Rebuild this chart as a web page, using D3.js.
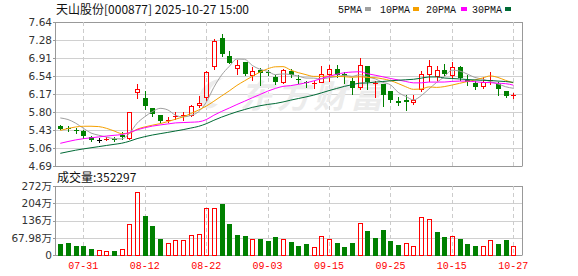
<!DOCTYPE html>
<html><head><meta charset="utf-8">
<script src="https://cdn.jsdelivr.net/npm/d3@7"></script>
<style>body{margin:0;background:#fff} svg{display:block}</style>
</head><body><svg id="c" width="578" height="276"></svg>
<script>
// ---------------- DATA ----------------
const title = "天山股份[000877] 2025-10-27 15:00";
const dates = [
 "2025-07-28","2025-07-29","2025-07-30","2025-07-31",
 "2025-08-01","2025-08-04","2025-08-05","2025-08-06","2025-08-07","2025-08-08",
 "2025-08-11","2025-08-12","2025-08-13","2025-08-14","2025-08-15",
 "2025-08-18","2025-08-19","2025-08-20","2025-08-21","2025-08-22",
 "2025-08-25","2025-08-26","2025-08-27","2025-08-28","2025-08-29",
 "2025-09-01","2025-09-02","2025-09-03","2025-09-04","2025-09-05",
 "2025-09-08","2025-09-09","2025-09-10","2025-09-11","2025-09-12",
 "2025-09-15","2025-09-16","2025-09-17","2025-09-18","2025-09-19",
 "2025-09-22","2025-09-23","2025-09-24","2025-09-25","2025-09-26",
 "2025-09-29","2025-09-30","2025-10-09","2025-10-10",
 "2025-10-13","2025-10-14","2025-10-15","2025-10-16","2025-10-17",
 "2025-10-20","2025-10-21","2025-10-22","2025-10-23","2025-10-24","2025-10-27"
];
const open  = [5.51,5.47,5.42,5.40,5.29,5.23,5.24,5.25,5.32,5.265,
               6.21,6.09,5.88,5.745,5.61,5.69,5.71,5.74,5.93,6.10,
               6.74,7.32,6.94,6.70,6.82,6.56,6.66,6.62,6.52,6.42,
               6.64,6.48,6.405,6.37,6.41,6.58,6.67,6.58,6.44,6.305,
               6.73,6.38,6.36,6.22,6.03,6.05,6.00,6.27,6.58,6.54,
               6.65,6.56,6.72,6.46,6.39,6.33,6.43,6.36,6.22,6.12];
const high  = [5.52,5.50,5.47,5.42,5.31,5.27,5.285,5.28,5.38,5.80,
               6.37,6.22,5.88,5.745,5.69,5.79,5.79,5.93,6.13,6.63,
               7.30,7.40,7.04,6.87,6.82,6.72,6.70,6.66,6.55,6.68,
               6.68,6.55,6.44,6.44,6.74,6.76,6.75,6.61,6.50,6.90,
               6.73,6.43,6.37,6.22,6.11,6.15,6.15,6.63,6.86,6.73,
               6.78,6.82,6.73,6.55,6.44,6.51,6.61,6.41,6.22,6.18];
const low   = [5.44,5.40,5.36,5.27,5.21,5.18,5.22,5.21,5.25,5.25,
               6.08,5.86,5.71,5.60,5.59,5.65,5.64,5.72,5.89,6.05,
               6.68,6.94,6.79,6.58,6.56,6.46,6.35,6.55,6.38,6.40,
               6.51,6.40,6.31,6.29,6.41,6.44,6.51,6.39,6.17,6.27,
               6.27,6.11,5.91,6.01,5.94,5.84,5.97,6.22,6.43,6.46,
               6.56,6.52,6.46,6.35,6.26,6.28,6.36,6.15,6.10,6.09];
const close = [5.45,5.44,5.41,5.30,5.225,5.23,5.25,5.24,5.28,5.80,
               6.26,5.915,5.76,5.62,5.64,5.72,5.74,5.91,5.99,6.61,
               7.26,6.99,6.80,6.75,6.58,6.63,6.60,6.59,6.41,6.65,
               6.56,6.45,6.39,6.40,6.58,6.67,6.56,6.53,6.29,6.75,
               6.42,6.40,6.15,6.05,5.98,6.00,6.04,6.58,6.73,6.65,
               6.58,6.72,6.50,6.42,6.30,6.41,6.46,6.27,6.13,6.14];
// volume in 万 (10k shares)
const volume = [43,47,35,35,23.5,18,14,15.7,22,121.6,
                250,153,114,63,46,57.5,57.5,77,81,187,
                187,200,121.6,78.5,74.5,61.5,61.5,55,70.6,65,
                51,35,43,30,73,65,47,31,47,128,
                94,67,98,55,39,46,34,148,140,90,
                70.6,73,63,43,35,34,57.5,43,59,35.2297];
// closes of the 29 sessions before the window (for the moving averages)
const prevCloses = [4.46,4.48,4.50,4.52,4.53,4.54,4.56,4.57,4.59,4.65,
                    4.70,4.75,4.80,4.85,4.88,4.90,4.93,4.96,5.00,5.13,
                    5.05,5.10,5.15,5.22,5.30,5.60,5.78,5.82,5.72];
const priceMin = 4.69, priceMax = 7.64;
const priceTickLabels = ["4.69","5.06","5.43","5.80","6.17","6.54","6.91","7.28","7.64"];
const volMax = 271.92;
const volTickLabels = ["0","67.98万","136万","204万","272万"];
const xTickLabels = ["07-31","08-12","08-22","09-03","09-15","09-25","10-15","10-27"];
const maPeriods = [5,10,20,30];
const maNames = ["5PMA","10PMA","20PMA","30PMA"];

// ---------------- LAYOUT ----------------
const L = 56, R = 522, T = 22, B = 166, VT = 186, VB = 255;
const maColors = ["#a0a0a0","#f5a000","#ff00ff","#006a35"];
const RED = "#ff0000", GREEN = "#008000";

const svg = d3.select("#c");
const x = d3.scalePoint().domain(dates).range([60.3, 513.3]);
const y = d3.scaleLinear().domain([priceMin, priceMax]).range([B, T]);
const yv = d3.scaleLinear().domain([0, volMax]).range([VB, VT]);
const px = v => Math.round(v) + 0.5;

const priceTicks = priceTickLabels.map((_, k) => priceMin + k * (priceMax - priceMin) / (priceTickLabels.length - 1));
const volTicks = volTickLabels.map((_, k) => k * volMax / (volTickLabels.length - 1));
const xTickDates = xTickLabels.map(l => dates.find(d => d.slice(5) === l));

// grids
const grid = svg.append("g");
priceTicks.forEach((v, k) => {
  const edge = k === 0 || k === priceTicks.length - 1;
  grid.append("line").attr("x1", L).attr("x2", R).attr("y1", px(y(v))).attr("y2", px(y(v)))
    .attr("stroke", edge ? "#999" : "#d0d0d0");
  grid.append("line").attr("x1", L - 3).attr("x2", L).attr("y1", px(y(v))).attr("y2", px(y(v))).attr("stroke", "#999");
});
volTicks.forEach((v, k) => {
  const edge = k === 0 || k === volTicks.length - 1;
  grid.append("line").attr("x1", L).attr("x2", R).attr("y1", px(yv(v))).attr("y2", px(yv(v)))
    .attr("stroke", edge ? "#999" : "#d0d0d0");
  grid.append("line").attr("x1", L - 3).attr("x2", L).attr("y1", px(yv(v))).attr("y2", px(yv(v))).attr("stroke", "#999");
});
xTickDates.forEach(d => {
  [[T, B], [VT, VB]].forEach(([a, b]) => {
    grid.append("line").attr("x1", px(x(d))).attr("x2", px(x(d))).attr("y1", a).attr("y2", b)
      .attr("stroke", "#cccccc").attr("stroke-dasharray", "4,3");
  });
});
// frames
[[T, B], [VT, VB]].forEach(([a, b]) => {
  grid.append("line").attr("x1", px(L) - 1).attr("x2", px(L) - 1).attr("y1", a).attr("y2", b + 0.5).attr("stroke", "#999");
  grid.append("line").attr("x1", px(R)).attr("x2", px(R)).attr("y1", a).attr("y2", b + 0.5).attr("stroke", "#999");
});

// watermark
const wm = svg.append("g").attr("opacity", 1);
wm.append("path").attr("d", "M224,78 C206,80 196,92 200,104 C203,110 212,110 218,104 C210,104 206,98 210,90 C213,84 219,80 224,78 Z")
  .attr("fill", "#ececec");
wm.append("text").attr("x", 240).attr("y", 108).attr("textLength", 143)
  .attr("font-family", "Noto Sans CJK SC").attr("font-weight", "bold").attr("font-size", 33)
  .attr("font-style", "italic").attr("fill", "#ececec").text("东方财富");

// candles
const cg = svg.append("g");
dates.forEach((d, i) => {
  const cx = Math.round(x(d));
  const o = open[i], c = close[i];
  const col = c > o ? RED : (c < o ? GREEN : "#000");
  const yo = Math.round(y(o)), yc = Math.round(y(c)), yh = Math.round(y(high[i])), yl = Math.round(y(low[i]));
  const top = Math.min(yo, yc), bot = Math.max(yo, yc);
  if (c > o && bot - top >= 2) {
    if (yh < top) cg.append("line").attr("x1", cx + 0.5).attr("x2", cx + 0.5).attr("y1", yh).attr("y2", top).attr("stroke", col);
    if (yl > bot) cg.append("line").attr("x1", cx + 0.5).attr("x2", cx + 0.5).attr("y1", bot + 1).attr("y2", yl + 1).attr("stroke", col);
    cg.append("rect").attr("x", cx - 1.5).attr("y", top + 0.5).attr("width", 4).attr("height", bot - top)
      .attr("fill", "none").attr("stroke", col);
  } else {
    cg.append("line").attr("x1", cx + 0.5).attr("x2", cx + 0.5).attr("y1", yh).attr("y2", yl + 1).attr("stroke", col);
    cg.append("rect").attr("x", cx - 2).attr("y", top).attr("width", 5).attr("height", Math.max(1, bot - top))
      .attr("fill", col);
  }
});

// moving averages
const allCloses = prevCloses.concat(close);
const off = prevCloses.length;
const lg = svg.append("g");
maPeriods.forEach((n, k) => {
  const ma = close.map((_, i) => d3.mean(allCloses.slice(i + off - n + 1, i + off + 1)));
  const line = d3.line().x((v, i) => x(dates[i])).y(v => y(v)).curve(d3.curveMonotoneX);
  lg.append("path").attr("d", line(ma)).attr("fill", "none").attr("stroke", maColors[k]).attr("stroke-width", 1);
});

// volume bars
const vg = svg.append("g");
dates.forEach((d, i) => {
  const cx = Math.round(x(d));
  const prev = i === 0 ? prevCloses[prevCloses.length - 1] : close[i - 1];
  const up = close[i] >= prev;
  const yt = Math.round(yv(volume[i]));
  if (up) {
    vg.append("rect").attr("x", cx - 1.5).attr("y", yt + 0.5).attr("width", 4).attr("height", VB - yt)
      .attr("fill", "none").attr("stroke", RED);
  } else {
    vg.append("rect").attr("x", cx - 2).attr("y", yt).attr("width", 5).attr("height", VB - yt + 1).attr("fill", GREEN);
  }
});

// texts
svg.append("text").attr("x", 56).attr("y", 14).attr("font-family", "Noto Sans CJK SC").attr("font-size", 12)
  .attr("fill", "#111").text(title);
const legX = [338, 380, 426, 472], legRX = [365, 413, 461, 505];
maNames.forEach((nm, k) => {
  svg.append("text").attr("x", legX[k]).attr("y", 13).attr("font-family", "Liberation Mono").attr("font-size", 10)
    .attr("fill", "#111").text(nm);
  svg.append("rect").attr("x", legRX[k]).attr("y", 7).attr("width", 6).attr("height", 4).attr("fill", maColors[k]);
});
priceTicks.forEach((v, k) => {
  svg.append("text").attr("x", 52).attr("y", y(v)).attr("dy", "0.36em").attr("text-anchor", "end")
    .attr("font-family", "DejaVu Sans").attr("font-size", 10.5).attr("fill", "#333").text(priceTickLabels[k]);
});
volTicks.forEach((v, k) => {
  svg.append("text").attr("x", 52).attr("y", yv(v)).attr("dy", "0.36em").attr("text-anchor", "end")
    .attr("font-family", "DejaVu Sans, Noto Sans CJK SC").attr("font-size", 10.5).attr("fill", "#333").text(volTickLabels[k]);
});
svg.append("text").attr("x", 57).attr("y", 182).attr("font-family", "Noto Sans CJK SC").attr("font-size", 12)
  .attr("fill", "#111").text("成交量:" + Math.round(volume[volume.length - 1] * 10000));
xTickDates.forEach((d, k) => {
  svg.append("text").attr("x", x(d)).attr("y", 269).attr("text-anchor", "middle")
    .attr("font-family", "Liberation Mono").attr("font-size", 10).attr("fill", RED).text(xTickLabels[k]);
});
</script></body></html>
